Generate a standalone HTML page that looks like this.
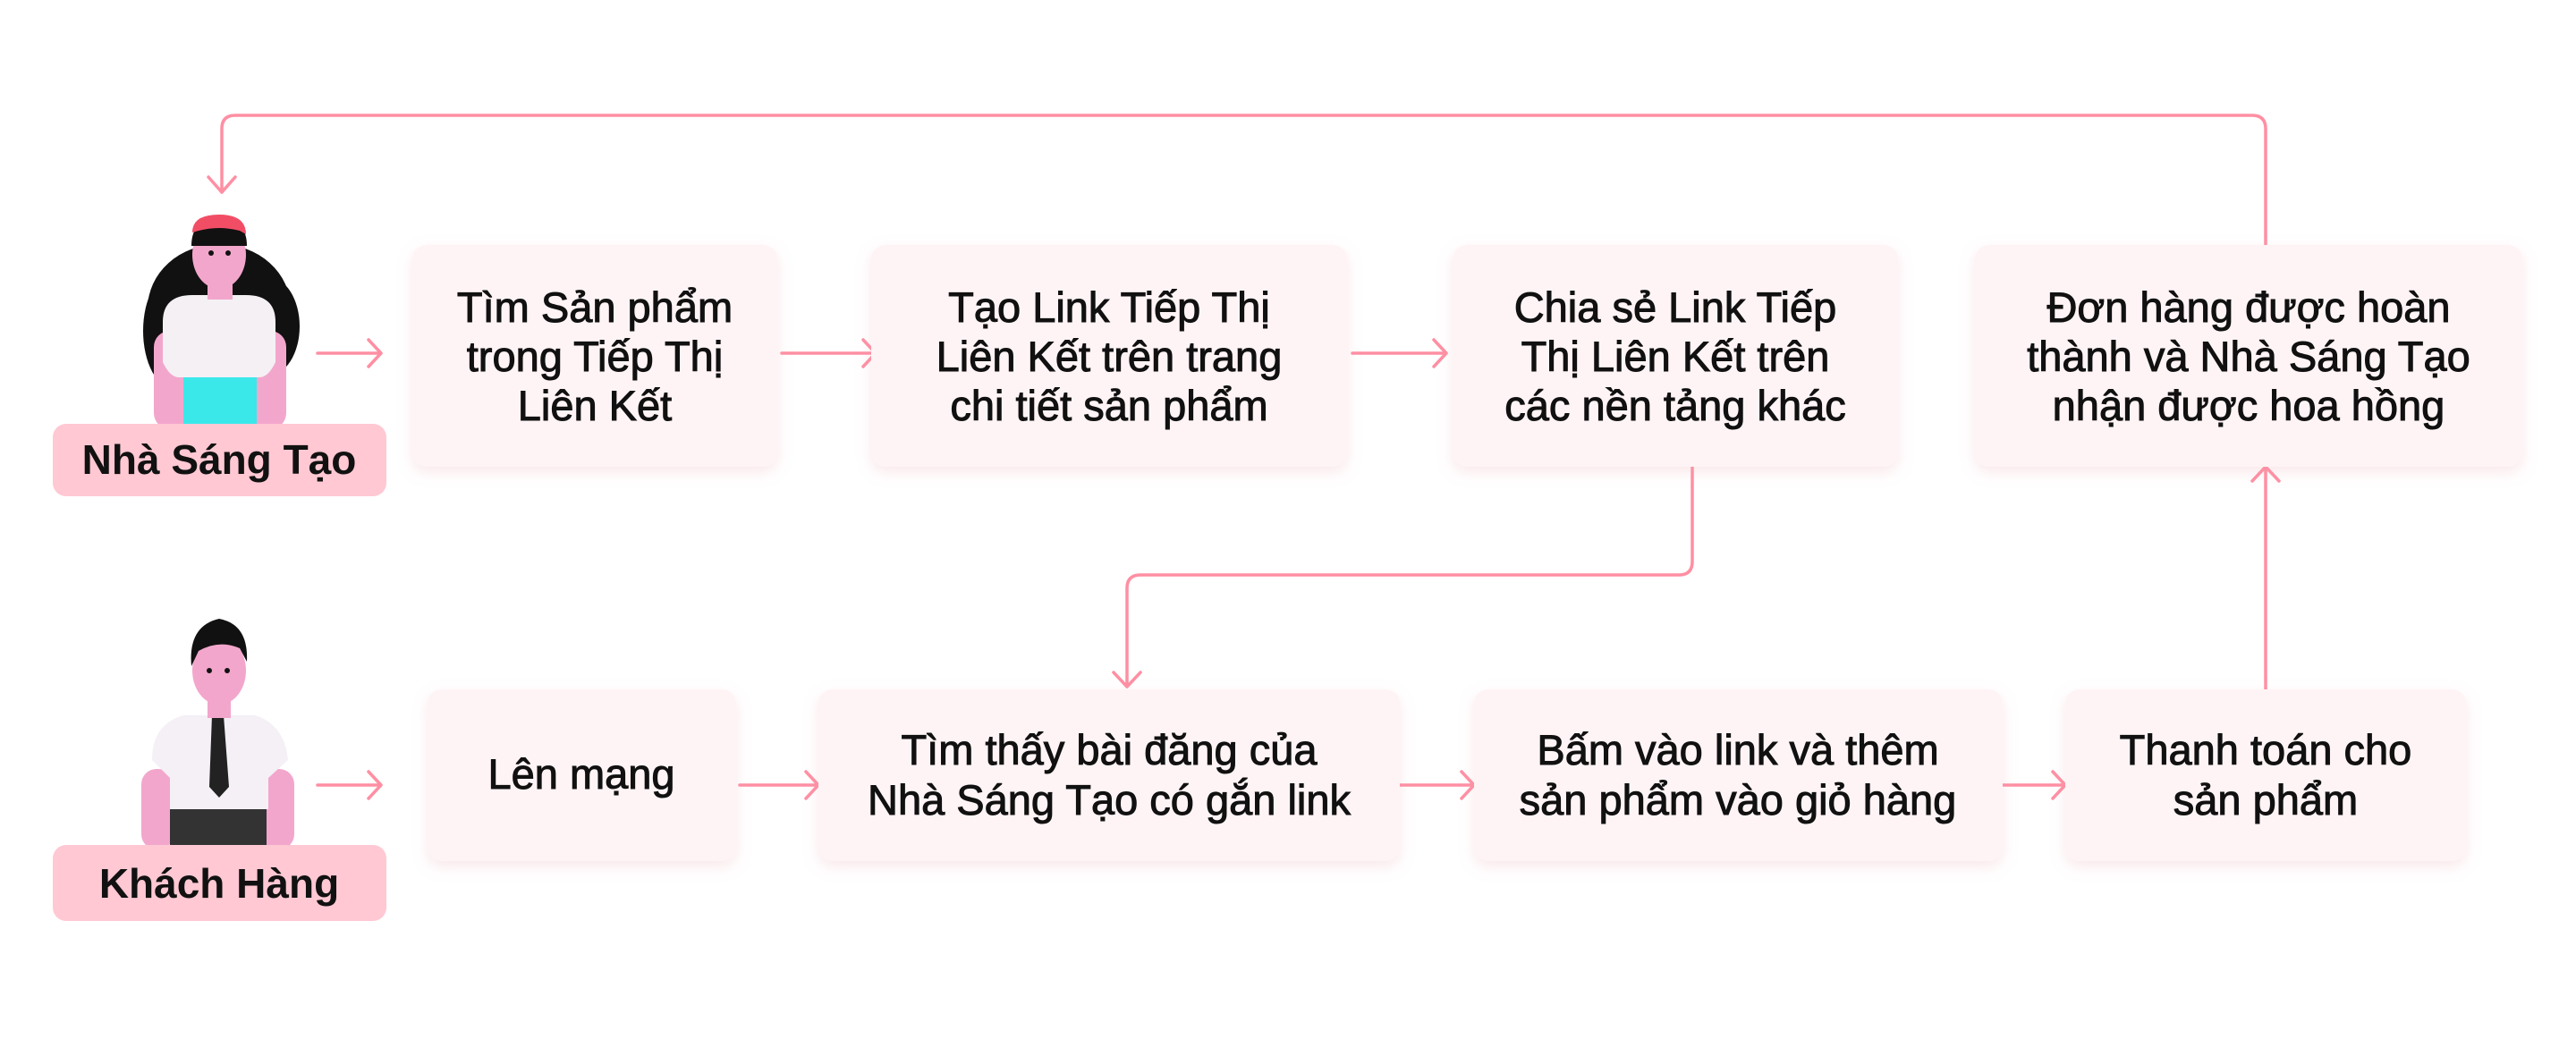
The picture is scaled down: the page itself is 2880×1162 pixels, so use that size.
<!DOCTYPE html>
<html><head><meta charset="utf-8"><style>
html,body{margin:0;padding:0;background:#fff;}
svg{display:block;}
text{font-family:"Liberation Sans",sans-serif;fill:#111;}
.t{font-size:47px;text-anchor:middle;stroke:#111;stroke-width:1px;}
.l{font-size:46px;font-weight:bold;text-anchor:middle;}
</style></head><body>
<svg width="2880" height="1162" viewBox="0 0 2880 1162" xmlns="http://www.w3.org/2000/svg">
<defs>
<filter id="sh" x="-10%" y="-10%" width="120%" height="130%"><feDropShadow dx="0" dy="6" stdDeviation="8" flood-color="#e8a0ac" flood-opacity="0.25"/></filter>
</defs>
<g fill="none" stroke="#ff8fa3" stroke-width="3.5" stroke-linecap="round" stroke-linejoin="round">
<path d="M2533 275 V144 Q2533 129 2518 129 H263 Q248 129 248 144 V215"/>
<path d="M233 198 L248 215 L263 198"/>
<path d="M355 395 H426 M412 380 L426 395 L412 410"/>
<path d="M874 395 H979 M965 380 L979 395 L965 410"/>
<path d="M1512 395 H1617 M1603 380 L1617 395 L1603 410"/>
<path d="M1892 520 V628 Q1892 643 1877 643 H1275 Q1260 643 1260 658 V768"/>
<path d="M1245 752 L1260 768 L1275 752"/>
<path d="M355 878 H426 M412 863 L426 878 L412 893"/>
<path d="M827 878 H915 M901 863 L915 878 L901 893"/>
<path d="M1565 878 H1648 M1634 863 L1648 878 L1634 893"/>
<path d="M2239 878 H2309 M2295 863 L2309 878 L2295 893"/>
<path d="M2533 772 V522 M2518 538 L2533 522 L2548 538"/>
</g>
<g fill="#fff4f5" filter="url(#sh)">
<rect x="461" y="274" width="408" height="248" rx="16"/>
<rect x="974" y="274" width="532" height="248" rx="16"/>
<rect x="1624" y="274" width="498" height="248" rx="16"/>
<rect x="2208" y="274" width="612" height="248" rx="16"/>
<rect x="478" y="771" width="345" height="192" rx="16"/>
<rect x="915" y="771" width="650" height="192" rx="16"/>
<rect x="1648" y="771" width="591" height="192" rx="16"/>
<rect x="2309" y="771" width="448" height="192" rx="16"/>
</g>
<text class="t"><tspan x="665" y="360">Tìm Sản phẩm</tspan><tspan x="665" y="415">trong Tiếp Thị</tspan><tspan x="665" y="470">Liên Kết</tspan></text>
<text class="t"><tspan x="1240" y="360">Tạo Link Tiếp Thị</tspan><tspan x="1240" y="415">Liên Kết trên trang</tspan><tspan x="1240" y="470">chi tiết sản phẩm</tspan></text>
<text class="t"><tspan x="1873" y="360">Chia sẻ Link Tiếp</tspan><tspan x="1873" y="415">Thị Liên Kết trên</tspan><tspan x="1873" y="470">các nền tảng khác</tspan></text>
<text class="t"><tspan x="2514" y="360">Đơn hàng được hoàn</tspan><tspan x="2514" y="415">thành và Nhà Sáng Tạo</tspan><tspan x="2514" y="470">nhận được hoa hồng</tspan></text>
<text class="t" x="650" y="882">Lên mạng</text>
<text class="t"><tspan x="1240" y="855">Tìm thấy bài đăng của</tspan><tspan x="1240" y="911">Nhà Sáng Tạo có gắn link</tspan></text>
<text class="t"><tspan x="1943" y="855">Bấm vào link và thêm</tspan><tspan x="1943" y="911">sản phẩm vào giỏ hàng</tspan></text>
<text class="t"><tspan x="2533" y="855">Thanh toán cho</tspan><tspan x="2533" y="911">sản phẩm</tspan></text>
<g>
<ellipse cx="245" cy="345" rx="80" ry="72" fill="#111"/>
<ellipse cx="195" cy="370" rx="35" ry="65" fill="#111"/>
<ellipse cx="300" cy="365" rx="35" ry="55" fill="#111"/>
<rect x="172" y="370" width="38" height="110" rx="18" fill="#f3a6cc"/>
<rect x="282" y="370" width="38" height="110" rx="18" fill="#f3a6cc"/>
<rect x="205" y="420" width="82" height="60" fill="#3ae8ea"/>
<path d="M182 360 Q182 330 215 330 H275 Q308 330 308 360 V405 Q300 422 290 422 H200 Q190 422 182 405 Z" fill="#f4f0f4"/>
<rect x="232" y="300" width="28" height="35" fill="#f3a6cc"/>
<ellipse cx="245" cy="285" rx="30" ry="38" fill="#f3a6cc"/>
<path d="M214 275 Q214 245 245 242 Q276 245 276 275 Z" fill="#111"/>
<path d="M215 260 Q215 240 245 240 Q275 240 275 262 L268 258 Q245 252 222 258 Z" fill="#f14e66"/>
<circle cx="236" cy="283" r="3" fill="#111"/><circle cx="255" cy="283" r="3" fill="#111"/>
</g>
<rect x="59" y="474" width="373" height="81" rx="15" fill="#ffc8d3"/>
<text class="l" x="245" y="530">Nhà Sáng Tạo</text>
<g>
<rect x="158" y="860" width="36" height="90" rx="17" fill="#f3a6cc"/>
<rect x="293" y="860" width="36" height="90" rx="17" fill="#f3a6cc"/>
<rect x="190" y="900" width="108" height="50" fill="#333"/>
<path d="M170 850 Q170 810 205 800 H285 Q318 810 322 850 L300 870 V905 H190 V870 Z" fill="#f4f0f6"/>
<path d="M237 800 L250 800 L256 880 L245 892 L234 880 Z" fill="#222"/>
<rect x="232" y="775" width="26" height="28" fill="#f3a6cc"/>
<ellipse cx="245" cy="750" rx="30" ry="38" fill="#f3a6cc"/>
<path d="M214 745 Q210 700 245 692 Q278 698 276 740 L268 725 Q245 715 222 728 Z" fill="#111"/>
<circle cx="234" cy="750" r="3" fill="#111"/><circle cx="254" cy="750" r="3" fill="#111"/>
</g>
<rect x="59" y="945" width="373" height="85" rx="15" fill="#ffc8d3"/>
<text class="l" x="245" y="1004">Khách Hàng</text>
</svg>
</body></html>
